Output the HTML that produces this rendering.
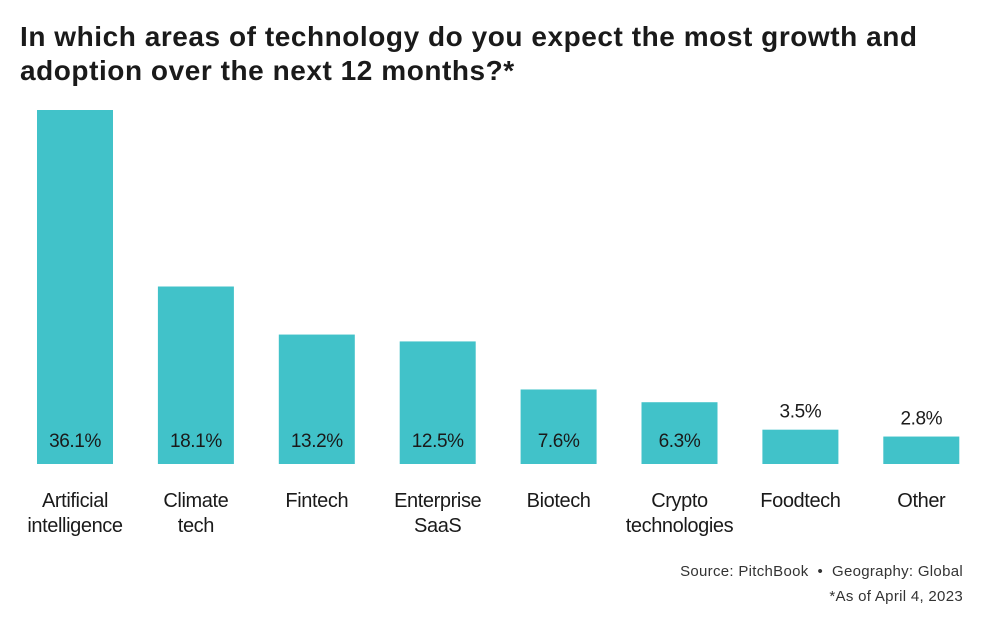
<!DOCTYPE html>
<html><head><meta charset="utf-8"><style>
body{margin:0;background:#fff;width:992px;height:636px;overflow:hidden;font-family:"Liberation Sans",sans-serif}
#t{position:absolute;left:20px;top:20px;font-size:28px;font-weight:bold;line-height:34px;color:#1a1a1a;letter-spacing:0.55px;white-space:nowrap}
.src{position:absolute;right:29px;font-size:15px;color:#333;letter-spacing:0.3px}
</style></head><body>
<div id="t">In which areas of technology do you expect the most growth and<br>adoption over the next 12 months?*</div>
<svg id="c" width="992" height="636" style="position:absolute;left:0;top:0"></svg>
<div class="src" style="top:563px">Source: PitchBook &nbsp;•&nbsp; Geography: Global</div>
<div class="src" style="top:588px">*As of April 4, 2023</div>
<script>
const categories=[["Artificial","intelligence"],["Climate","tech"],["Fintech"],["Enterprise","SaaS"],["Biotech"],["Crypto","technologies"],["Foodtech"],["Other"]];
const values=[36.1,18.1,13.2,12.5,7.6,6.3,3.5,2.8];
const labels=["36.1%","18.1%","13.2%","12.5%","7.6%","6.3%","3.5%","2.8%"];
const svg=document.getElementById('c');const NS='http://www.w3.org/2000/svg';
const base=464,scale=354/36.1,x0=37,pitch=120.9,bw=76;
const y=v=>base-v*scale;const x=i=>x0+i*pitch;
values.forEach((v,i)=>{
const r=document.createElementNS(NS,'rect');


r.setAttribute('x',x(i));r.setAttribute('y',y(v));r.setAttribute('width',bw);r.setAttribute('height',base-y(v));r.setAttribute('fill','#41c2c9');svg.appendChild(r);
const t=document.createElementNS(NS,'text');


const inside=(base-y(v))>60;
t.setAttribute('x',x(i)+bw/2);t.setAttribute('y',inside?447:y(v)-12);t.setAttribute('text-anchor','middle');t.setAttribute('font-size','19');t.setAttribute('letter-spacing','-0.4');t.setAttribute('fill','#1a1a1a');t.setAttribute('font-family','Liberation Sans, sans-serif');t.textContent=labels[i];svg.appendChild(t);
categories[i].forEach((s,j)=>{
const c=document.createElementNS(NS,'text');


c.setAttribute('x',x(i)+bw/2);c.setAttribute('y',507+j*25);c.setAttribute('text-anchor','middle');c.setAttribute('font-size','20');c.setAttribute('letter-spacing','-0.4');c.setAttribute('fill','#1a1a1a');c.setAttribute('font-family','Liberation Sans, sans-serif');c.textContent=s;svg.appendChild(c);});
});
</script>
</body></html>
